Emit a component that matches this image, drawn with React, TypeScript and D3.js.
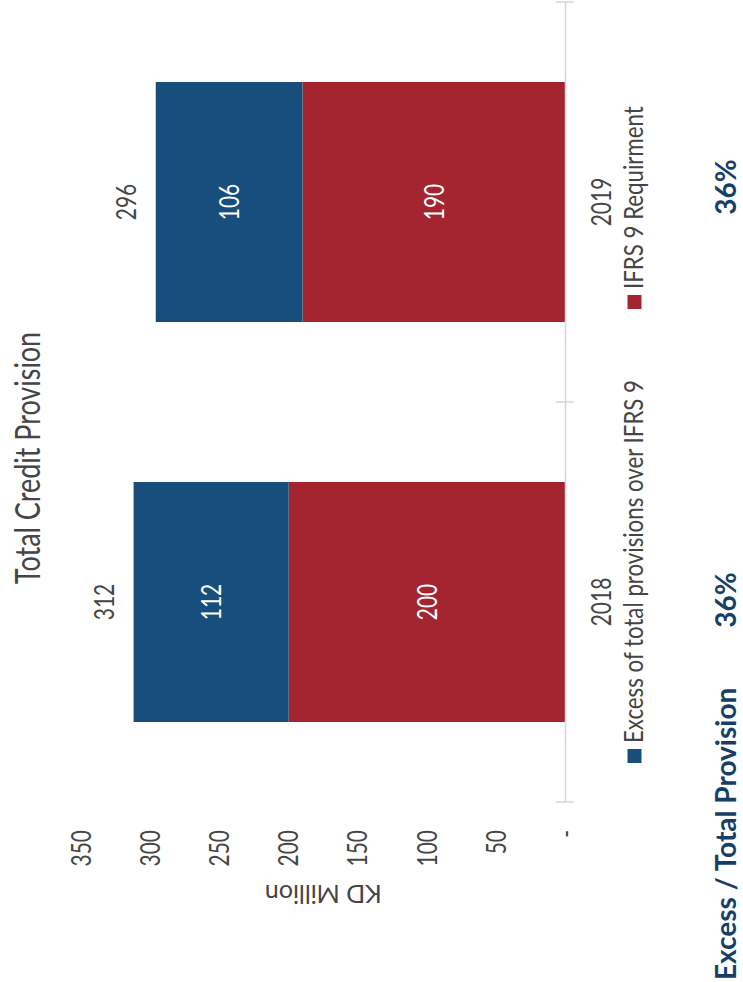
import React from 'react';
import * as d3 from 'd3';

const years = ['2018', '2019'];
const excessValues = [112, 106];
const ifrsValues = [200, 190];
const totalValues = [312, 296];
const ratioLabels = ['36%', '36%'];
const valueTicks = [0, 50, 100, 150, 200, 250, 300, 350];
const seriesNames = ['Excess of total provisions over IFRS 9', 'IFRS 9 Requirment'];
const chartTitle = 'Total Credit Provision';
const axisTitle = 'KD Million';
const footLabel = 'Excess / Total Provision';

const PAGE_W = 743;
const PAGE_H = 982;
const BLUE = '#174e7b';
const RED = '#a4252f';
const NAVY = '#173f66';
const GRAY = '#454545';
const FONT = 'Lato, "Open Sans", sans-serif';

export default function App() {
  // Chart is drawn in its own frame (u horizontal, v vertical) and rotated -90deg onto the page.
  const x = d3.scaleBand<string>().domain(years).range([180, 980]).paddingInner(0.4).paddingOuter(0.2);
  const y = d3.scaleLinear().domain([0, 350]).range([565.5, 81]);
  const bw = x.bandwidth();

  const rows = years.map((yr, i) => ({ year: yr, ifrs: ifrsValues[i], excess: excessValues[i] }));
  const stack = d3.stack<any>().keys(['ifrs', 'excess'])(rows);
  const colors: Record<string, string> = { ifrs: RED, excess: BLUE };

  const txt = (u: number, v: number, sx: number, extra = '') => `translate(${u},${v}) scale(${sx},1)${extra}`;
  const SX = 0.79;
  const LSX = 0.84;
  const fs = 26.5;

  const legendU = [219, 673];
  const legendColors = [BLUE, RED];
  const ratioU = [382, 795];

  return (
    <svg width={PAGE_W} height={PAGE_H} style={{ position: 'absolute', left: 0, top: 0, background: '#fff' }}>
      <rect width={PAGE_W} height={PAGE_H} fill="#fff" />
      <g transform={`translate(0,${PAGE_H}) rotate(-90)`} fontFamily={FONT}>
        {/* title */}
        <text transform={txt(524, 40, 0.77)} textAnchor="middle" fontSize={35} fill={GRAY}>{chartTitle}</text>

        {/* value axis labels */}
        {valueTicks.map(t => (
          <text key={t} transform={txt(152, y(t), SX)} dy="0.36em" textAnchor="end" fontSize={fs} fill={GRAY}>
            {t === 0 ? '-' : d3.format('d')(t)}
          </text>
        ))}
        <text transform={`translate(97,${(y(0) + y(350)) / 2}) rotate(-90)`} textAnchor="middle" fontSize={25} fill={GRAY}>{axisTitle}</text>

        {/* bars */}
        {stack.map(layer => (
          <g key={layer.key} fill={colors[layer.key]}>
            {layer.map((d, i) => (
              <rect key={i} x={x(years[i])} width={bw} y={y(d[1])} height={y(d[0]) - y(d[1])} />
            ))}
          </g>
        ))}
        {/* segment labels */}
        {stack.map(layer => layer.map((d, i) => (
          <text key={layer.key + i} transform={txt((x(years[i]) as number) + bw / 2, (y(d[0]) + y(d[1])) / 2, SX)} dy="0.36em"
            textAnchor="middle" fontSize={fs} fill="#fff">
            {d[1] - d[0]}
          </text>
        )))}
        {/* totals */}
        {years.map((yr, i) => (
          <text key={yr} transform={txt((x(yr) as number) + bw / 2, y(totalValues[i]) - 19.5, SX)} textAnchor="middle" fontSize={fs} fill={GRAY}>
            {totalValues[i]}
          </text>
        ))}

        {/* category axis */}
        <line x1={x.range()[0]} x2={x.range()[1]} y1={y(0)} y2={y(0)} stroke="#d6d6d6" strokeWidth={1.5} />
        {[...years.map(yr => (x(yr) as number) - x.step() * x.paddingInner() / 2), x.range()[1]].map((u, i) => (
          <line key={i} x1={u} x2={u} y1={y(0) - 10} y2={y(0) + 8} stroke="#d6d6d6" strokeWidth={1.5} />
        ))}
        {years.map(yr => (
          <text key={yr} transform={txt((x(yr) as number) + bw / 2, 611, SX)} textAnchor="middle" fontSize={fs} fill={GRAY}>{yr}</text>
        ))}

        {/* legend */}
        {seriesNames.map((name, i) => (
          <g key={name}>
            <rect x={legendU[i]} y={627.5} width={14} height={14} fill={legendColors[i]} />
            <text transform={txt(legendU[i] + 20, 643, LSX)} fontSize={fs} fill={GRAY}>{name}</text>
          </g>
        ))}

        {/* ratio annotation */}
        <text x={2} y={736} fontSize={28} fontWeight="bold" fill={NAVY}>{footLabel}</text>
        {ratioLabels.map((r, i) => (
          <text key={i} x={ratioU[i]} y={736} textAnchor="middle" fontSize={28} fontWeight="bold" fill={NAVY}>{r}</text>
        ))}
      </g>
    </svg>
  );
}
